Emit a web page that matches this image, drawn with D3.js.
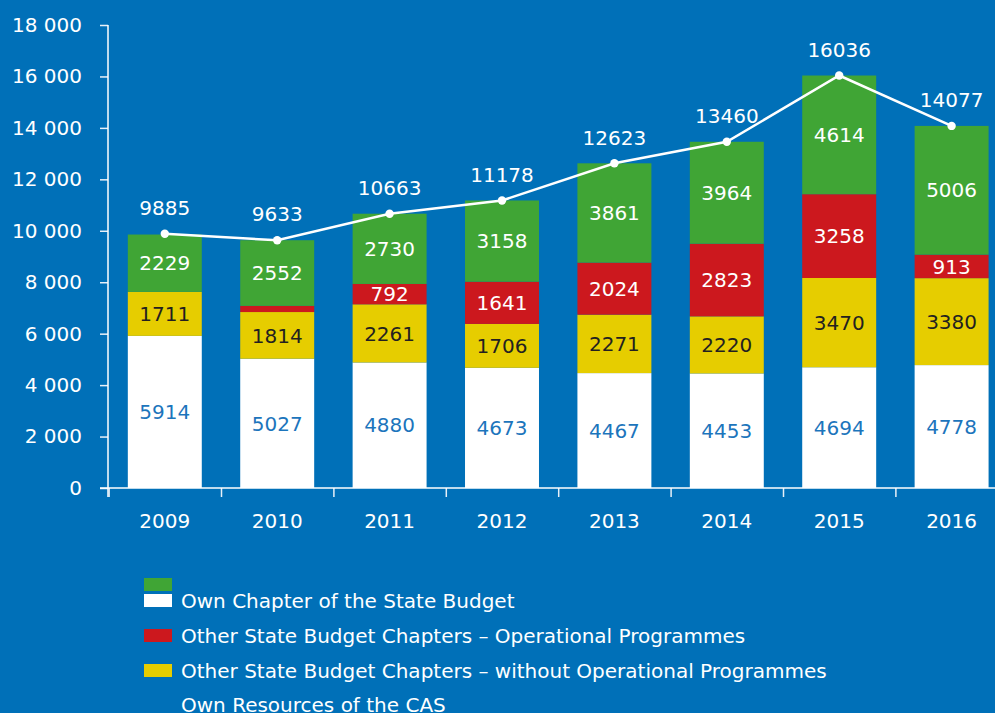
<!DOCTYPE html>
<html>
<head>
<meta charset="utf-8">
<script src="https://cdn.jsdelivr.net/npm/d3@7/dist/d3.min.js"></script>
<style>
  html, body { margin: 0; padding: 0; background: #0070B8; overflow: hidden; }
  svg { display: block; }
  text { font-family: "DejaVu Sans", sans-serif; }
</style>
</head>
<body>
<svg id="chart" width="995" height="713"></svg>
<script>
const years = ["2009", "2010", "2011", "2012", "2013", "2014", "2015", "2016"];
const ownChapter = [5914, 5027, 4880, 4673, 4467, 4453, 4694, 4778];
const otherWithoutOP = [1711, 1814, 2261, 1706, 2271, 2220, 3470, 3380];
const otherOP = [0, 240, 792, 1641, 2024, 2823, 3258, 913];
const ownResources = [2229, 2552, 2730, 3158, 3861, 3964, 4614, 5006];
const totals = [9885, 9633, 10663, 11178, 12623, 13460, 16036, 14077];
const yTicks = [0, 2000, 4000, 6000, 8000, 10000, 12000, 14000, 16000, 18000];
const showLabel = [[true,true,true,true,true,true,true,true],
                   [true,true,true,true,true,true,true,true],
                   [false,false,true,true,true,true,true,true],
                   [true,true,true,true,true,true,true,true]];

const seriesDefs = [
  { key: "own", values: ownChapter, color: "#FFFFFF", text: "#1C75BC" },
  { key: "noop", values: otherWithoutOP, color: "#E6CD00", text: "#231F20" },
  { key: "op", values: otherOP, color: "#CC181E", text: "#FFFFFF" },
  { key: "res", values: ownResources, color: "#40A535", text: "#FFFFFF" }
];

const svg = d3.select("#chart");
const x0 = 108.6, step = 112.4;
const x = d3.scaleBand().domain(years).range([x0, x0 + step * years.length])
  .paddingInner(0.342).paddingOuter(0.171);
const y = d3.scaleLinear().domain([0, 18000]).range([488, 25]);

const table = years.map((yr, i) => ({ year: yr, own: ownChapter[i], noop: otherWithoutOP[i], op: otherOP[i], res: ownResources[i] }));
const stack = d3.stack().keys(seriesDefs.map(s => s.key));
const stacked = stack(table);

// y axis
const yAxis = d3.axisLeft(y).tickValues(yTicks).tickSize(8).tickPadding(18)
  .tickFormat(d => d3.format(",")(d).replace(/,/g, " "));
const gy = svg.append("g").attr("transform", "translate(108,0)").call(yAxis);
gy.select(".domain").remove();
gy.selectAll(".tick line").attr("stroke", "#E8F0F8").attr("stroke-width", 1.5);
gy.selectAll(".tick text").attr("fill", "#FFFFFF").style("font-size", "20px")
  .attr("font-family", "DejaVu Sans, sans-serif");
svg.append("line").attr("x1", 108).attr("x2", 108).attr("y1", 25).attr("y2", 497)
  .attr("stroke", "#FFFFFF").attr("stroke-width", 1.5);

// x axis line and boundary ticks
const xb = d3.scaleLinear().domain([0, years.length]).range([x0, x0 + step * years.length]);
const xAxisTicks = d3.axisBottom(xb).tickValues(d3.range(0, years.length + 1)).tickSize(9).tickFormat("");
const gx = svg.append("g").attr("transform", "translate(0,488)").call(xAxisTicks);
gx.select(".domain").remove();
gx.selectAll(".tick line").attr("stroke", "#E8F0F8").attr("stroke-width", 1.5);
svg.append("line").attr("x1", 100).attr("x2", 995).attr("y1", 488).attr("y2", 488)
  .attr("stroke", "#FFFFFF").attr("stroke-width", 1.5);

const gxl = svg.append("g").attr("transform", "translate(0,488)")
  .call(d3.axisBottom(x).tickSize(0).tickPadding(26));
gxl.select(".domain").remove();
gxl.selectAll(".tick text").attr("fill", "#FFFFFF").style("font-size", "20px")
  .attr("font-family", "DejaVu Sans, sans-serif");

// bars
stacked.forEach((layer, si) => {
  const def = seriesDefs[si];
  const g = svg.append("g");
  g.selectAll("rect").data(layer).join("rect")
    .attr("x", d => x(d.data.year))
    .attr("width", x.bandwidth())
    .attr("y", d => y(d[1]))
    .attr("height", d => Math.max(0, y(d[0]) - y(d[1])))
    .attr("fill", def.color);
  g.selectAll("text").data(layer.filter((d, i) => showLabel[si][i] && d[1] - d[0] > 0)).join("text")
    .attr("x", d => x(d.data.year) + x.bandwidth() / 2)
    .attr("y", d => (y(d[0]) + y(d[1])) / 2)
    .attr("dy", "0.36em")
    .attr("text-anchor", "middle")
    .attr("fill", def.text)
    .style("font-size", "20px")
    .text(d => d[1] - d[0]);
});

// total line
const pts = years.map((yr, i) => [x(yr) + x.bandwidth() / 2, y(totals[i])]);
svg.append("path").attr("d", d3.line()(pts)).attr("fill", "none")
  .attr("stroke", "#FFFFFF").attr("stroke-width", 2.5);
svg.append("g").selectAll("circle").data(pts).join("circle")
  .attr("cx", d => d[0]).attr("cy", d => d[1]).attr("r", 4.2).attr("fill", "#FFFFFF");
svg.append("g").selectAll("text").data(totals).join("text")
  .attr("x", (d, i) => pts[i][0]).attr("y", (d, i) => pts[i][1] - 26)
  .attr("dy", "0.36em").attr("text-anchor", "middle").attr("fill", "#FFFFFF")
  .style("font-size", "20px").text(d => d);

// legend (reproducing the reference's offset layout)
const legendSwatches = [
  { color: "#40A535", y: 578 },
  { color: "#FFFFFF", y: 594 },
  { color: "#CC181E", y: 629 },
  { color: "#E6CD00", y: 664 }
];
const legendLabels = [
  { text: "Own Chapter of the State Budget", y: 601 },
  { text: "Other State Budget Chapters – Operational Programmes", y: 636 },
  { text: "Other State Budget Chapters – without Operational Programmes", y: 671 },
  { text: "Own Resources of the CAS", y: 705 }
];
const lg = svg.append("g");
lg.selectAll("rect").data(legendSwatches).join("rect")
  .attr("x", 144).attr("y", d => d.y).attr("width", 28).attr("height", 13).attr("fill", d => d.color);
lg.selectAll("text").data(legendLabels).join("text")
  .attr("x", 181).attr("y", d => d.y).attr("dy", "0.36em")
  .attr("fill", "#FFFFFF").style("font-size", "20px")
  .attr("font-family", "DejaVu Sans, sans-serif")
  .text(d => d.text);
</script>
</body>
</html>
